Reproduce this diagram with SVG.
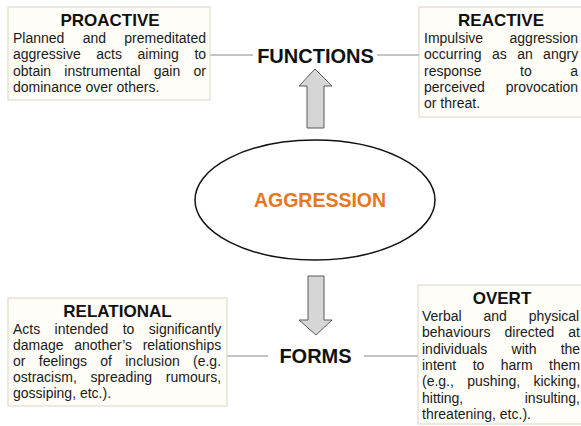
<svg xmlns="http://www.w3.org/2000/svg" width="581" height="426" viewBox="0 0 581 426">
<style>
.box{fill:#fffdf7;stroke:#dcd4c6;stroke-width:1}
.title{font-family:"Liberation Sans",Arial,sans-serif;font-weight:bold;font-size:17px;fill:#111;text-anchor:middle}
.body{font-family:"Liberation Sans",Arial,sans-serif;font-size:14px;fill:#1a1a1a}
.big{font-family:"Liberation Sans",Arial,sans-serif;font-weight:bold;font-size:20px;fill:#111;text-anchor:middle}
.conn{stroke:#8a8a8a;stroke-width:1;fill:none}
.arrow{fill:#d6d6d6;stroke:#5a5a5a;stroke-width:1}
</style>
<rect width="581" height="426" fill="#ffffff"/>
<g id="connectors">
<line class="conn" x1="210" y1="55" x2="253" y2="55"/>
<line class="conn" x1="377" y1="55" x2="419" y2="55"/>
<line class="conn" x1="227" y1="356" x2="268" y2="356"/>
<line class="conn" x1="364" y1="356" x2="418" y2="356"/>
<polygon class="arrow" points="315,69 332,86 324,86 324,128 307,128 307,86 299,86"/>
<polygon class="arrow" points="308,276 324,276 324,320 332,320 316,335 299,320 308,320"/>
</g>
<g id="proactive">
<rect class="box" x="8" y="7" width="202" height="93"/>
<text class="title" x="110" y="26">PROACTIVE</text>
<text class="body" x="13" y="43" style="word-spacing:14.4px">Planned and premeditated</text>
<text class="body" x="13" y="59.3" style="word-spacing:11.7px">aggressive acts aiming to</text>
<text class="body" x="13" y="75.6" style="word-spacing:9.3px">obtain instrumental gain or</text>
<text class="body" x="13" y="92">dominance over others.</text>
</g>
<g id="reactive">
<rect class="box" x="419" y="7" width="170" height="110"/>
<text class="title" x="501" y="26">REACTIVE</text>
<text class="body" x="424" y="43" style="word-spacing:22.5px">Impulsive aggression</text>
<text class="body" x="424" y="59.3" style="word-spacing:6.5px">occurring as an angry</text>
<text class="body" x="424" y="75.6" style="word-spacing:34.6px">response to a</text>
<text class="body" x="424" y="92" style="word-spacing:17.1px">perceived provocation</text>
<text class="body" x="424" y="108.3">or threat.</text>
</g>
<g id="functions">
<text class="big" x="315.5" y="63">FUNCTIONS</text>
</g>
<g id="aggression">
<ellipse cx="315" cy="200" rx="120" ry="60" fill="none" stroke="#111" stroke-width="1.5"/>
<text class="big" x="320" y="207" style="fill:#e8761e;font-size:19.5px">AGGRESSION</text>
</g>
<g id="forms">
<text class="big" x="315.5" y="363">FORMS</text>
</g>
<g id="relational">
<rect class="box" x="8" y="298" width="219" height="108"/>
<text class="title" x="117.5" y="316.5">RELATIONAL</text>
<text class="body" x="13" y="333.5" style="word-spacing:10.5px">Acts intended to significantly</text>
<text class="body" x="13" y="349.7" style="word-spacing:6.7px">damage another’s relationships</text>
<text class="body" x="13" y="365.9" style="word-spacing:9.4px">or feelings of inclusion (e.g.</text>
<text class="body" x="13" y="382.1" style="word-spacing:9.9px">ostracism, spreading rumours,</text>
<text class="body" x="13" y="398.3">gossiping, etc.).</text>
</g>
<g id="overt">
<rect class="box" x="418" y="285" width="170" height="139"/>
<text class="title" x="502" y="304">OVERT</text>
<text class="body" x="422" y="321" style="word-spacing:17.9px">Verbal and physical</text>
<text class="body" x="422" y="337.3" style="word-spacing:10.1px">behaviours directed at</text>
<text class="body" x="422" y="353.6" style="word-spacing:20.3px">individuals with the</text>
<text class="body" x="422" y="370" style="word-spacing:12.5px">intent to harm them</text>
<text class="body" x="422" y="386.3" style="word-spacing:9.4px">(e.g., pushing, kicking,</text>
<text class="body" x="422" y="402.6" style="word-spacing:57.6px">hitting, insulting,</text>
<text class="body" x="422" y="419">threatening, etc.).</text>
</g>
</svg>
